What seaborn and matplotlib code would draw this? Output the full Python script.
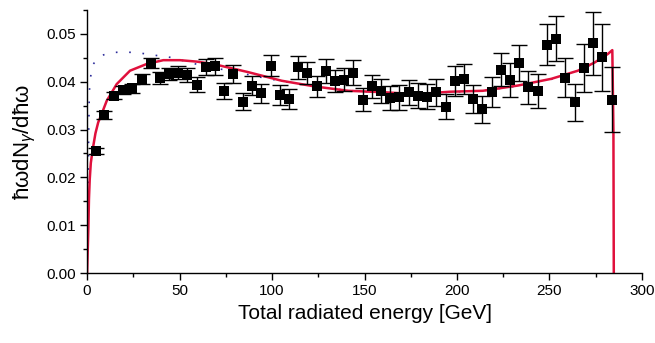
import numpy as np
import pandas as pd
import seaborn as sns
import matplotlib.pyplot as plt

# measured spectrum (points with error bars)
energy = [4.7, 9.4, 14.4, 19.6, 24.5, 29.5, 34.4, 39.5, 44.3, 49.4,
          54.2, 59.3, 64.3, 69.2, 74.2, 79.1, 84.3, 89.2, 94.2, 99.3,
          104.3, 109.2, 114.2, 119.1, 124.2, 129.2, 134.0, 139.1, 143.9, 149.0,
          153.9, 158.9, 163.8, 168.8, 173.9, 178.9, 183.8, 188.8, 193.9, 198.8,
          203.8, 208.8, 213.7, 218.7, 223.6, 228.6, 233.7, 238.5, 243.6, 248.6,
          253.7, 258.5, 263.6, 268.6, 273.5, 278.5, 283.6]
spectrum = [0.0255, 0.0331, 0.0371, 0.0383, 0.0386, 0.0406, 0.0439, 0.0408, 0.0416, 0.0419,
            0.0414, 0.0394, 0.0431, 0.0432, 0.0381, 0.0416, 0.0358, 0.0392, 0.0376, 0.0433,
            0.0372, 0.0363, 0.0430, 0.0419, 0.0390, 0.0423, 0.0402, 0.0404, 0.0419, 0.0362,
            0.0390, 0.0381, 0.0365, 0.0367, 0.0378, 0.0371, 0.0369, 0.0378, 0.0348, 0.0401,
            0.0406, 0.0364, 0.0342, 0.0379, 0.0425, 0.0404, 0.0439, 0.0388, 0.0381, 0.0477,
            0.0490, 0.0408, 0.0357, 0.0428, 0.0480, 0.0451, 0.0362]
spectrum_err = [0.0007, 0.0008, 0.0008, 0.0009, 0.0009, 0.0010, 0.0011, 0.0012, 0.0013, 0.0013,
                0.0014, 0.0015, 0.0016, 0.0017, 0.0017, 0.0018, 0.0018, 0.0019, 0.0020, 0.0022,
                0.0021, 0.0021, 0.0024, 0.0023, 0.0022, 0.0025, 0.0023, 0.0024, 0.0026, 0.0024,
                0.0025, 0.0025, 0.0025, 0.0026, 0.0026, 0.0027, 0.0027, 0.0028, 0.0027, 0.0031,
                0.0031, 0.0029, 0.0029, 0.0031, 0.0035, 0.0035, 0.0038, 0.0035, 0.0036, 0.0043,
                0.0047, 0.0041, 0.0039, 0.0050, 0.0066, 0.0070, 0.0068]

# theory curve (red)
theory_x = [0.0, 0.35, 0.7, 1.0, 1.4, 2.0, 3.0, 4.5, 6.0, 7.6, 10.6, 16.0, 23.2, 32.2, 41.2,
            50.2, 59.3, 68.2, 87.1, 105.2, 123.2, 141.2, 160.0, 178.0, 196.0, 214.0,
            233.0, 251.0, 265.4, 274.4, 281.6, 284.0, 284.6, 284.8]
theory_y = [0.0, 0.005, 0.0097, 0.0155, 0.0195, 0.0230, 0.0258, 0.0292, 0.0315, 0.0330,
            0.0360, 0.0395, 0.0423, 0.0437, 0.0445, 0.0445, 0.0442, 0.0437, 0.0420, 0.0402,
            0.0390, 0.0381, 0.0378, 0.0374, 0.0379, 0.0381, 0.0392, 0.0406, 0.0423, 0.0440,
            0.0458, 0.0466, 0.0300, 0.0]

# second calculation (dotted)
calc_x = [0.6, 0.8, 1.2, 2.5, 7.0, 13.3, 19.6, 25.9, 32.2, 38.9, 44.8, 51.0, 57.5, 70.0,
          83.0, 95.6, 108.5, 125.0, 140.0, 160.0, 178.0, 196.0, 214.0, 233.0, 251.0,
          265.0, 275.0, 282.0]
calc_y = [0.016, 0.028, 0.038, 0.0433, 0.0454, 0.0461, 0.0462, 0.0461, 0.0458, 0.0454,
          0.0451, 0.0445, 0.0438, 0.0428, 0.0418, 0.0408, 0.0399, 0.0389, 0.0382, 0.0377,
          0.0373, 0.0378, 0.0381, 0.0391, 0.0405, 0.0422, 0.0440, 0.0458]

sns.set_theme(style="ticks")
plt.rcParams["font.family"] = ["Liberation Sans", "DejaVu Sans"]
plt.rcParams["mathtext.fontset"] = "custom"
plt.rcParams["mathtext.rm"] = "Liberation Sans"
plt.rcParams["mathtext.it"] = "Liberation Sans:italic"
plt.rcParams["text.color"] = "black"
plt.rcParams["axes.labelcolor"] = "black"

fig = plt.figure(figsize=(6.55, 3.43), dpi=100)
ax = fig.add_axes([0.133, 0.204, 0.847, 0.767])

calc = pd.DataFrame({"x": calc_x, "y": calc_y})
theory = pd.DataFrame({"x": theory_x, "y": theory_y})

sns.lineplot(data=calc, x="x", y="y", ax=ax, sort=False, estimator=None,
             color="#2b2b9a", linewidth=1.2, linestyle=(0, (1, 7)), zorder=1)
sns.lineplot(data=theory, x="x", y="y", ax=ax, sort=False, estimator=None,
             color="#e0103c", linewidth=1.8, zorder=2)

ax.errorbar(energy, spectrum, yerr=spectrum_err, fmt="none", ecolor="black",
            elinewidth=1.0, capsize=6, capthick=1.0, zorder=3)
sns.scatterplot(x=energy, y=spectrum, ax=ax, marker="s", s=52, color="black",
                edgecolor="black", linewidth=0, zorder=4)

ax.set_xlim(0, 300)
ax.set_ylim(0, 0.055)
ax.set_xticks([0, 50, 100, 150, 200, 250, 300])
ax.set_xticks([25, 75, 125, 175, 225, 275], minor=True)
ax.set_yticks([0.0, 0.01, 0.02, 0.03, 0.04, 0.05])
ax.set_yticks([0.005, 0.015, 0.025, 0.035, 0.045, 0.055], minor=True)
ax.yaxis.set_major_formatter(plt.FormatStrFormatter("%.2f"))

ax.tick_params(which="major", direction="out", length=5, width=1, labelsize=11,
               colors="black", pad=3)
ax.tick_params(which="minor", direction="out", length=3, width=1, colors="black")

ax.set_xlabel("Total radiated energy [GeV]", fontsize=15, labelpad=4)
ax.set_ylabel("ħωdN$_{\\gamma}$/dħω", fontsize=16, labelpad=6)

sns.despine(ax=ax)
for s in ["left", "bottom"]:
    ax.spines[s].set_linewidth(1)
    ax.spines[s].set_color("black")

fig.savefig("out.png", dpi=100)
